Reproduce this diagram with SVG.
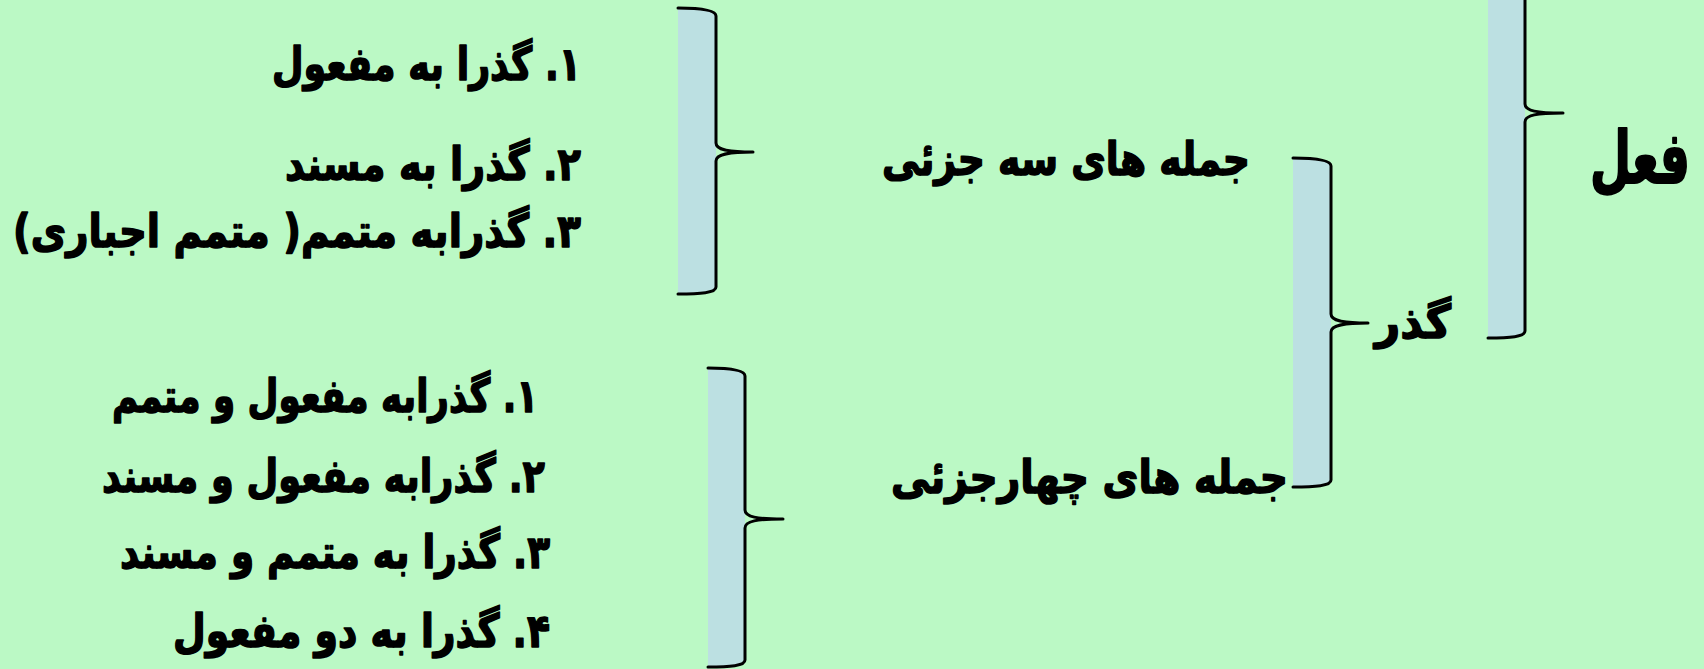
<svg xmlns="http://www.w3.org/2000/svg" width="1704" height="669" viewBox="0 0 1704 669">
<style>
.t{font-family:"DejaVu Sans","Noto Sans",sans-serif;font-weight:bold;font-size:46px;fill:#000;stroke:#000;stroke-width:1.6;stroke-linejoin:round;direction:rtl;unicode-bidi:embed}
.big{font-size:72px;stroke-width:2.2}
.bf{fill:#BCE0E2;stroke:none}
.bs{fill:none;stroke:#000;stroke-width:3;stroke-linejoin:round;stroke-linecap:round}
</style>
<rect x="0" y="0" width="1704" height="669" fill="#BBF9C5"/>
<g id="connectors">
  <g id="brace-1">
    <path class="bf" d="M678,8 C700,8 716,10 716,16 V287 C716,293 700,294 678,294 Z"/>
    <path class="bs" d="M678,8 C700,8 716,10 716,16 V143 C716,150 728,152 753,152 C728,152 716,154 716,161 V287 C716,293 700,294 678,294"/>
  </g>
  <g id="brace-2">
    <path class="bf" d="M708,368 C730,368 745,370 745,376 V660 C745,666 730,667 708,667 Z"/>
    <path class="bs" d="M708,368 C730,368 745,370 745,376 V510 C745,517 757,519 783,519 C757,519 745,521 745,528 V660 C745,666 730,667 708,667"/>
  </g>
  <g id="brace-3">
    <path class="bf" d="M1293,158 C1315,158 1331,160 1331,166 V480 C1331,486 1315,487 1293,487 Z"/>
    <path class="bs" d="M1293,158 C1315,158 1331,160 1331,166 V314 C1331,321 1343,323 1368,323 C1343,323 1331,325 1331,332 V480 C1331,486 1315,487 1293,487"/>
  </g>
  <g id="brace-4">
    <path class="bf" d="M1488,-112 C1510,-112 1525,-110 1525,-104 V331 C1525,337 1510,338 1488,338 Z"/>
    <path class="bs" d="M1488,-112 C1510,-112 1525,-110 1525,-104 V104 C1525,111 1537,113 1563,113 C1537,113 1525,115 1525,122 V331 C1525,337 1510,338 1488,338"/>
  </g>
</g>
<g id="node-fel"><text class="t big" x="1690" y="183" textLength="100" lengthAdjust="spacingAndGlyphs">فعل</text></g>
<g id="node-gozar"><text class="t" x="1451" y="338" textLength="76" lengthAdjust="spacingAndGlyphs">گذر</text></g>
<g id="node-se"><text class="t" x="1250" y="175" textLength="368" lengthAdjust="spacingAndGlyphs">جمله های سه جزئی</text></g>
<g id="node-chahar"><text class="t" x="1288" y="493" textLength="397" lengthAdjust="spacingAndGlyphs">جمله های چهارجزئی</text></g>
<g id="node-a1"><text class="t" x="581" y="80" textLength="309" lengthAdjust="spacingAndGlyphs">۱. گذرا به مفعول</text></g>
<g id="node-a2"><text class="t" x="581" y="180" textLength="296" lengthAdjust="spacingAndGlyphs">۲. گذرا به مسند</text></g>
<g id="node-a3"><text class="t" x="581" y="247" textLength="568" lengthAdjust="spacingAndGlyphs">۳. گذرابه متمم( متمم اجباری)</text></g>
<g id="node-b1"><text class="t" x="538" y="412" textLength="426" lengthAdjust="spacingAndGlyphs">۱. گذرابه مفعول و متمم</text></g>
<g id="node-b2"><text class="t" x="545" y="492" textLength="443" lengthAdjust="spacingAndGlyphs">۲. گذرابه مفعول و مسند</text></g>
<g id="node-b3"><text class="t" x="550" y="568" textLength="430" lengthAdjust="spacingAndGlyphs">۳. گذرا به متمم و مسند</text></g>
<g id="node-b4"><text class="t" x="550" y="647" textLength="377" lengthAdjust="spacingAndGlyphs">۴. گذرا به دو مفعول</text></g>
</svg>
